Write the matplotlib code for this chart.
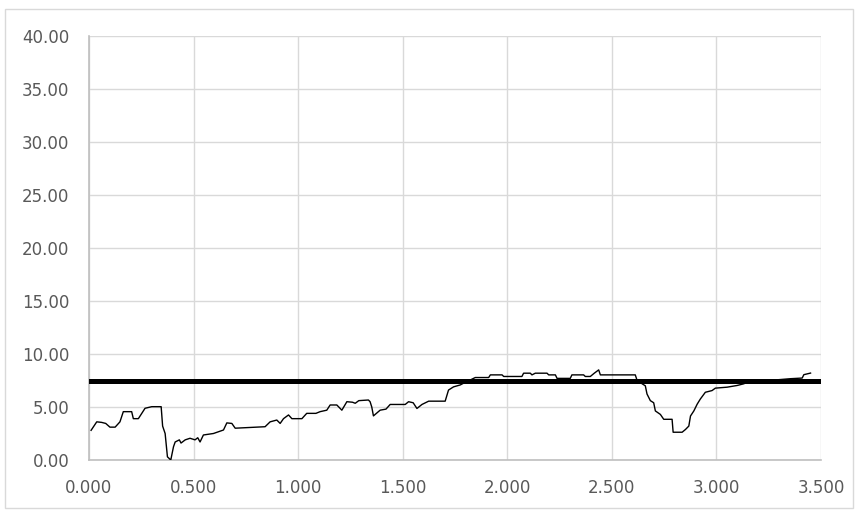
import matplotlib
matplotlib.use("Agg")
import matplotlib.pyplot as plt
from matplotlib.patches import Rectangle

# Data
x_vals = [0.01, 0.037, 0.06, 0.08, 0.10, 0.125, 0.148, 0.164, 0.204, 0.212, 0.236, 0.268, 0.30, 0.345,
          0.352, 0.364, 0.375, 0.391, 0.404, 0.412, 0.432, 0.44, 0.46, 0.483, 0.507, 0.52, 0.531, 0.547,
          0.595, 0.643, 0.659, 0.683, 0.699, 0.842, 0.866, 0.898, 0.914, 0.93, 0.954, 0.97, 1.018, 1.041,
          1.085, 1.105, 1.137, 1.153, 1.185, 1.209, 1.233, 1.26, 1.273, 1.29, 1.336, 1.344, 1.352, 1.36,
          1.392, 1.42, 1.44, 1.512, 1.528, 1.55, 1.568, 1.592, 1.624, 1.703, 1.719, 1.743, 1.775, 1.799,
          1.823, 1.847, 1.911, 1.919, 1.975, 1.983, 2.07, 2.078, 2.11, 2.118, 2.134, 2.19, 2.198, 2.23,
          2.238, 2.301, 2.309, 2.365, 2.373, 2.397, 2.416, 2.437, 2.445, 2.612, 2.62, 2.644, 2.66, 2.668,
          2.684, 2.70, 2.708, 2.732, 2.748, 2.788, 2.793, 2.836, 2.852, 2.868, 2.876, 2.892, 2.908, 2.923,
          2.947, 2.979, 2.995, 3.051, 3.099, 3.131, 3.155, 3.25, 3.354, 3.41, 3.418, 3.45]
y_vals = [2.8, 3.6, 3.55, 3.45, 3.1, 3.1, 3.6, 4.56, 4.56, 3.9, 3.9, 4.88, 5.03, 5.03,
          3.2, 2.5, 0.3, 0.0, 1.25, 1.7, 1.9, 1.6, 1.9, 2.05, 1.9, 2.1, 1.7, 2.36,
          2.5, 2.83, 3.5, 3.45, 3.0, 3.14, 3.6, 3.77, 3.45, 3.9, 4.25, 3.9, 3.9, 4.4,
          4.4, 4.56, 4.7, 5.19, 5.19, 4.7, 5.5, 5.45, 5.35, 5.6, 5.66, 5.5, 5.0, 4.16,
          4.7, 4.8, 5.24, 5.24, 5.5, 5.4, 4.86, 5.24, 5.55, 5.55, 6.6, 6.9, 7.08, 7.33,
          7.55, 7.78, 7.78, 8.03, 8.03, 7.88, 7.88, 8.19, 8.19, 8.03, 8.19, 8.19, 8.03, 8.03,
          7.7, 7.7, 8.03, 8.03, 7.88, 7.88, 8.19, 8.5, 8.03, 8.03, 7.55, 7.2, 7.0, 6.23,
          5.6, 5.4, 4.63, 4.3, 3.84, 3.84, 2.62, 2.62, 2.88, 3.2, 4.15, 4.63, 5.27, 5.75,
          6.39, 6.55, 6.78, 6.87, 7.03, 7.19, 7.41, 7.5, 7.67, 7.73, 8.05, 8.2]
threshold = 7.5
x_ticks = [0.0, 0.5, 1.0, 1.5, 2.0, 2.5, 3.0, 3.5]
y_ticks = [0, 5, 10, 15, 20, 25, 30, 35, 40]

plt.rcParams['font.family'] = ['DejaVu Sans']

fig = plt.figure(figsize=(8.58, 5.12), dpi=100)
fig.patches.append(Rectangle((5 / 858, 1 - 508 / 512), 848 / 858, 499 / 512,
                             transform=fig.transFigure, fill=False,
                             edgecolor='#d9d9d9', linewidth=1))
ax = fig.add_axes([89 / 858, 1 - 460 / 512, 732 / 858, 424 / 512])

ax.plot(x_vals, y_vals, color='black', linewidth=1.0, zorder=3)
ax.axhline(threshold, color='black', linewidth=3.6, zorder=4)

ax.set_xlim(0, 3.5)
ax.set_ylim(0, 40)
ax.set_xticks(x_ticks)
ax.set_yticks(y_ticks)
ax.set_xticklabels([f"{v:.3f}" for v in x_ticks])
ax.set_yticklabels([f"{v:.2f}" for v in y_ticks])
ax.grid(True, color='#d9d9d9', linewidth=1.0)
ax.set_axisbelow(True)
for s in ['top', 'right']:
    ax.spines[s].set_visible(False)
for s in ['left', 'bottom']:
    ax.spines[s].set_color('#bfbfbf')
    ax.spines[s].set_linewidth(1.2)
ax.tick_params(length=0, labelsize=12, labelcolor='#595959')
ax.tick_params(axis='y', pad=14)
ax.tick_params(axis='x', pad=14)

fig.savefig('out.png', dpi=100)
